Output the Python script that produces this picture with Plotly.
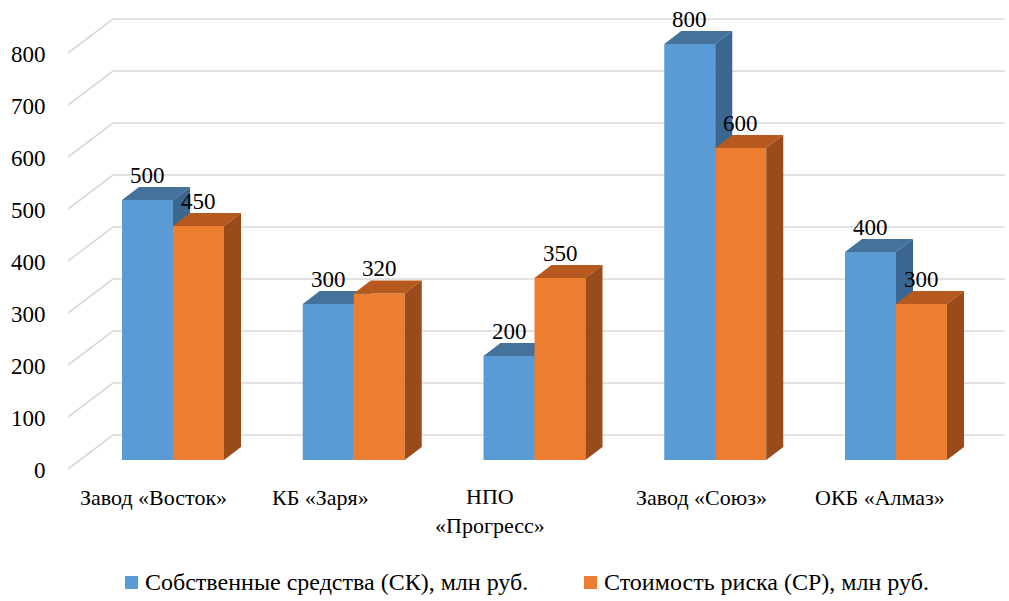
import plotly.graph_objects as go

# --- data ---
categories = ["Завод «Восток»", "КБ «Заря»", "НПО<br>«Прогресс»", "Завод «Союз»", "ОКБ «Алмаз»"]
own_funds = [500, 300, 200, 800, 400]      # Собственные средства (СК), млн руб.
risk_cost = [450, 320, 350, 600, 300]      # Стоимость риска (СР), млн руб.
tick_values = [0, 100, 200, 300, 400, 500, 600, 700, 800]
series_names = ["Собственные средства (СК), млн руб.", "Стоимость риска (СР), млн руб."]

# --- styling / pseudo-3D geometry (axis units) ---
W, H = 1009, 601
X0, SX = 173.0, 180.75      # pixel of category 0 and pixels per category
Y0, SY = 460.0, 0.52        # pixel of value 0 (bar front) and pixels per unit
BAR_W = 51 / SX             # width of one bar front face
BAR_DX, BAR_DY = 17 / SX, 13 / SY          # bar depth offset
WALL_FX, WALL_BX_R = (68 - X0) / SX, (1005 - X0) / SX
WALL_DX, WALL_DY = 45 / SX, 34 / SY        # floor/wall depth
FRONT_DY = -9 / SY                          # floor front edge relative to bar base
FONT = "Tinos, Liberation Serif, DejaVu Serif"

colors = {
    "blue": ("#5B9BD5", "#44729B", "#3B6690"),
    "orange": ("#ED7D31", "#B5591F", "#9A4B1C"),
}

fig = go.Figure()

# gridlines on side wall and back wall
gx, gy = [], []
for g in tick_values:
    gx += [WALL_FX, WALL_FX + WALL_DX, WALL_BX_R, None]
    gy += [g + FRONT_DY, g + FRONT_DY + WALL_DY, g + FRONT_DY + WALL_DY, None]
fig.add_trace(go.Scatter(x=gx, y=gy, mode="lines", line=dict(color="#D9D9D9", width=1.6),
                         hoverinfo="skip", showlegend=False))


def add_series(values, left_offset, palette):
    front_c, top_c, side_c = palette
    fx, fy, tx, ty, sx, sy = [], [], [], [], [], []
    for i, v in enumerate(values):
        a = i + left_offset
        b = a + BAR_W
        fx += [a, b, b, a, a, None]
        fy += [0, 0, v, v, 0, None]
        tx += [a, b, b + BAR_DX, a + BAR_DX, a, None]
        ty += [v, v, v + BAR_DY, v + BAR_DY, v, None]
        sx += [b, b + BAR_DX, b + BAR_DX, b, b, None]
        sy += [0, BAR_DY, v + BAR_DY, v, 0, None]
    for xs, ys, c in ((fx, fy, front_c), (tx, ty, top_c), (sx, sy, side_c)):
        fig.add_trace(go.Scatter(x=xs, y=ys, mode="lines", fill="toself", fillcolor=c,
                                 line=dict(width=0, color=c), hoverinfo="skip",
                                 showlegend=False))


add_series(own_funds, -BAR_W, colors["blue"])
add_series(risk_cost, 0.0, colors["orange"])

annotations = []
# value labels above bars
for i, (a, b) in enumerate(zip(own_funds, risk_cost)):
    annotations.append(dict(x=i - BAR_W / 2, y=a + 48, text=str(a), showarrow=False,
                            xref="x", yref="y", yanchor="middle",
                            font=dict(size=23, family=FONT, color="#000")))
    annotations.append(dict(x=i + BAR_W / 2, y=b + 48, text=str(b), showarrow=False,
                            xref="x", yref="y", yanchor="middle",
                            font=dict(size=23, family=FONT, color="#000")))

# value axis labels
for g in tick_values:
    annotations.append(dict(x=(48 - X0) / SX, y=g + FRONT_DY - 2, text=str(g), showarrow=False,
                            xref="x", yref="y", xanchor="right", yanchor="middle",
                            font=dict(size=23, family=FONT, color="#000")))

# category labels
label_shift_px = [-20, -33, -45, -14, -16]
for i, (c, s) in enumerate(zip(categories, label_shift_px)):
    two_lines = "<br>" in c
    annotations.append(dict(x=i + s / SX, y=(Y0 - 497) / SY, text=c, showarrow=False,
                            xref="x", yref="y", yanchor="top" if two_lines else "middle",
                            yshift=15 if two_lines else 0,
                            font=dict(size=22, family=FONT, color="#000")))

# legend
shapes = []
for (sx0, tx0), name, key in zip([(125, 143), (584, 602)], series_names, ["blue", "orange"]):
    shapes.append(dict(type="rect", xref="paper", yref="paper",
                       x0=sx0 / W, x1=(sx0 + 13) / W, y0=1 - 589 / H, y1=1 - 576 / H,
                       fillcolor=colors[key][0], line=dict(width=0)))
    annotations.append(dict(x=tx0 / W, y=1 - 582 / H, xref="paper", yref="paper",
                            xanchor="left", yanchor="middle", text=name, showarrow=False,
                            font=dict(size=24, family=FONT, color="#000")))

fig.update_layout(
    width=W, height=H,
    margin=dict(l=0, r=0, t=0, b=0),
    paper_bgcolor="white", plot_bgcolor="white",
    xaxis=dict(range=[-X0 / SX, (W - X0) / SX], visible=False, fixedrange=True),
    yaxis=dict(range=[(Y0 - H) / SY, Y0 / SY], visible=False, fixedrange=True),
    annotations=annotations, shapes=shapes, showlegend=False,
)

fig.write_html("out.html")
